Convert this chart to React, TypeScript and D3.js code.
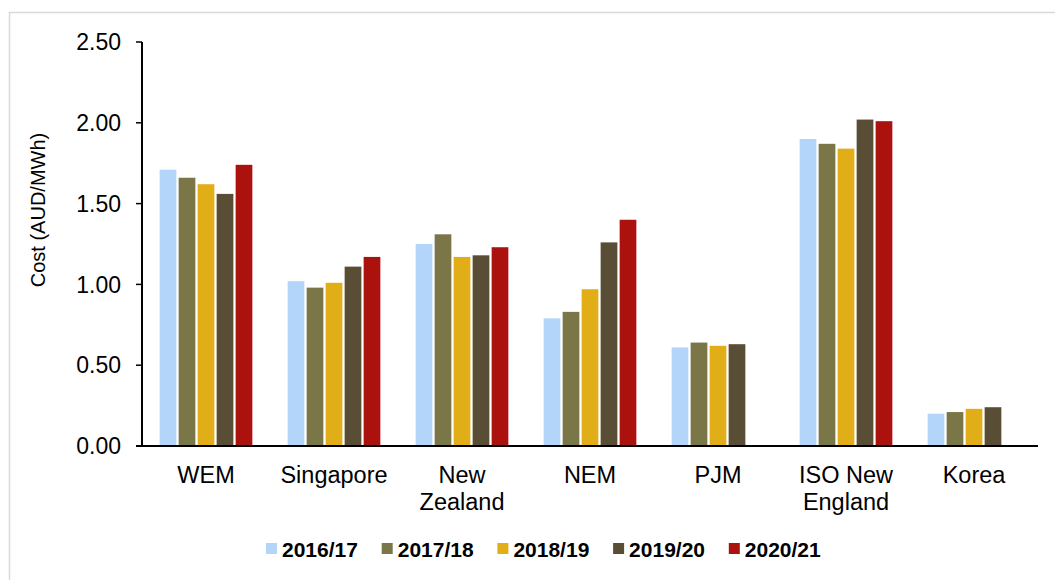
import React from 'react';
import * as d3 from 'd3';

const markets = ['WEM', 'Singapore', 'New Zealand', 'NEM', 'PJM', 'ISO New England', 'Korea'];
const marketLabels = [['WEM'], ['Singapore'], ['New', 'Zealand'], ['NEM'], ['PJM'], ['ISO New', 'England'], ['Korea']];
const years = ['2016/17', '2017/18', '2018/19', '2019/20', '2020/21'];

const cost2016 = [1.71, 1.02, 1.25, 0.79, 0.61, 1.90, 0.20];
const cost2017 = [1.66, 0.98, 1.31, 0.83, 0.64, 1.87, 0.21];
const cost2018 = [1.62, 1.01, 1.17, 0.97, 0.62, 1.84, 0.23];
const cost2019 = [1.56, 1.11, 1.18, 1.26, 0.63, 2.02, 0.24];
const cost2020 = [1.74, 1.17, 1.23, 1.40, null, 2.01, null];

const yTicks = [0, 0.5, 1.0, 1.5, 2.0, 2.5];

const colors = ['#b3d5fa', '#7a7648', '#e2ae17', '#5a4d35', '#ab120e'];

const series = [cost2016, cost2017, cost2018, cost2019, cost2020];

const font = 'Liberation Sans, Arial, sans-serif';

const App: React.FC = () => {
  const width = 1055;
  const height = 580;
  const left = 142;
  const right = 1038;
  const top = 42;
  const bottom = 446;

  const x0 = d3.scaleBand().domain(markets).range([left, right]).paddingInner(0.24).paddingOuter(0.12);
  const x1 = d3.scaleBand().domain(years).range([0, x0.bandwidth()]).padding(0.12);
  const y = d3.scaleLinear().domain([0, 2.5]).range([bottom, top]);

  return (
    <svg width={width} height={height} style={{ position: 'absolute', left: 0, top: 0 }} fontFamily={font}>
      <rect x={0} y={0} width={width} height={height} fill="#fff" />
      <rect x={9.5} y={12.5} width={1100} height={700} fill="none" stroke="#d9d9d9" strokeWidth={1.5} />

      {/* bars */}
      {series.map((vals, si) =>
        vals.map((v, i) =>
          v == null ? null : (
            <rect
              key={`${si}-${i}`}
              x={x0(markets[i])! + x1(years[si])!}
              y={y(v)}
              width={x1.bandwidth()}
              height={y(0) - y(v)}
              fill={colors[si]}
            />
          )
        )
      )}

      {/* y axis */}
      <line x1={left} x2={left} y1={top} y2={bottom} stroke="#000" strokeWidth={2} />
      {yTicks.map(t => (
        <g key={t}>
          <line x1={left - 6} x2={left} y1={y(t)} y2={y(t)} stroke="#000" strokeWidth={1.5} />
          <text x={left - 21} y={y(t)} dy="0.36em" textAnchor="end" fontSize={23} fill="#000">
            {d3.format('.2f')(t)}
          </text>
        </g>
      ))}
      <text
        transform={`translate(45,210) rotate(-90)`}
        textAnchor="middle"
        fontSize={20}
        fill="#000"
      >
        Cost (AUD/MWh)
      </text>

      {/* x axis */}
      <line x1={left - 6} x2={right} y1={bottom} y2={bottom} stroke="#000" strokeWidth={2} />
      {markets.map((m, i) => (
        <text key={m} x={x0(m)! + x0.bandwidth() / 2} y={483} textAnchor="middle" fontSize={23.5} fill="#000">
          {marketLabels[i].map((line, li) => (
            <tspan key={li} x={x0(m)! + x0.bandwidth() / 2} dy={li === 0 ? 0 : 27}>
              {line}
            </tspan>
          ))}
        </text>
      ))}

      {/* legend */}
      {years.map((yr, i) => (
        <g key={yr} transform={`translate(${266 + i * 115.7},0)`}>
          <rect x={0} y={543} width={11} height={11} fill={colors[i]} />
          <text x={16} y={557} fontSize={21} fontWeight="bold" fill="#000">
            {yr}
          </text>
        </g>
      ))}
    </svg>
  );
};

export default App;
